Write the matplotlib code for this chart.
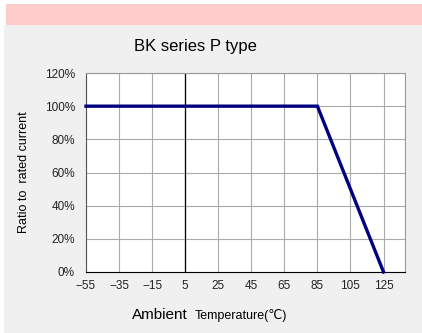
import matplotlib.pyplot as plt
from matplotlib.patches import Rectangle

plt.rcParams['font.family'] = ['Liberation Sans', 'DejaVu Sans']

# derating curve: ratio to rated current vs ambient temperature
temps = [-55, 85, 125]
ratio = [100, 100, 0]
xticks = [-55, -35, -15, 5, 25, 45, 65, 85, 105, 125]
yticks = [0, 20, 40, 60, 80, 100, 120]

W, H = 422, 333
fig = plt.figure(figsize=(W / 100, H / 100), dpi=100)
fig.patch.set_facecolor('white')

# panel backgrounds
fig.patches.append(Rectangle((6 / W, 1 - 25 / H), 1, 21 / H, transform=fig.transFigure,
                             facecolor='#ffcccc', edgecolor='none', zorder=-2))
fig.patches.append(Rectangle((4 / W, 0), 1, 1 - 25 / H, transform=fig.transFigure,
                             facecolor='#f0f0f0', edgecolor='none', zorder=-2))

ax = fig.add_axes([86 / W, 61 / H, 319 / W, 199 / H])
ax.set_zorder(2)
ax.set_facecolor('white')
ax.set_xlim(-55, 138)
ax.set_ylim(0, 120)
ax.set_xticks(xticks)
ax.set_yticks(yticks)
ax.set_yticklabels([f'{v}%' for v in yticks])
ax.set_xticklabels([str(v).replace('-', '\u2212') for v in xticks])
ax.tick_params(length=0, labelsize=8.5, colors='#222222')
ax.tick_params(axis='y', pad=8)
ax.tick_params(axis='x', pad=6)
ax.grid(True, color='#aaaaaa', linewidth=0.8)
ax.axvline(5, color='black', linewidth=0.9)
for side in ['top', 'right']:
    ax.spines[side].set_color('#999999')
ax.spines['left'].set_color('#555555')
ax.spines['bottom'].set_color('black')

ax.plot(temps, ratio, color='#000080', linewidth=2.4, solid_joinstyle='miter', zorder=5,
        clip_on=False)

fig.text(195 / W, 1 - 47 / H, 'BK series P type', ha='center', va='center', fontsize=12)
fig.text(24 / W, 1 - 172 / H, 'Ratio to  rated current', ha='center', va='center',
         rotation=90, fontsize=9)
fig.text(132 / W, 1 - 315 / H, 'Ambient', ha='left', va='center', fontsize=11)
fig.text(195 / W, 1 - 316 / H, 'Temperature(\u2103)', ha='left', va='center', fontsize=9)

fig.savefig('out.png', dpi=100)
